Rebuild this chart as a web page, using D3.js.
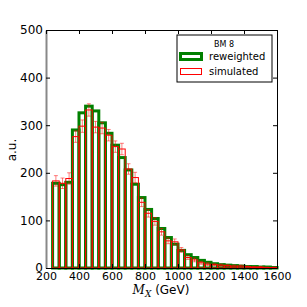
<!DOCTYPE html>
<html>
<head>
<meta charset="utf-8">
<script src="https://cdn.jsdelivr.net/npm/d3@7"></script>
<style>
    body { margin: 0; background: #fff; }
    .chart { width: 307px; height: 307px; }
    text { font-family: 'DejaVu Sans', sans-serif; fill: #000; }
</style>
</head>
<body>
<div class="chart"></div>
<script>
/* adatok */
const binLow = [240, 280, 320, 360, 400, 440, 480, 520, 560, 600, 640, 680, 720, 760, 800, 840, 880,
    920, 960, 1000, 1040, 1080, 1120, 1160, 1200, 1240, 1280, 1320, 1360, 1400, 1440, 1480, 1520, 1560];
const binWidth = 40;
const reweighted = [178, 175, 180, 290, 326, 340, 330, 305, 283, 258, 232, 206, 176, 148, 123, 104, 83,
    64, 50, 37, 28, 22, 16, 12, 9, 7, 6, 5, 4, 3, 3, 2, 2, 1];
const simulated = [183, 178, 188, 276, 298, 332, 296, 294, 279, 255, 250, 208, 190, 138, 115, 98, 76,
    57, 55, 38, 22, 17, 11, 8, 7, 6, 5, 4, 4, 3, 2, 2, 1, 1];
const simErr = [11, 11, 12, 12, 13, 13, 12, 12, 12, 12, 12, 11, 11, 9, 8, 8, 7,
    6, 6, 5, 4, 4, 3, 3, 2, 2, 2, 2, 2, 1, 1, 1, 1, 1];
const xTicks = [200, 400, 600, 800, 1000, 1200, 1400, 1600];
const yTicks = [0, 100, 200, 300, 400, 500];
const legendTitle = 'BM 8';
const seriesNames = ['reweighted', 'simulated'];

(function () {
    'use strict';

    const margin = { top: 30, left: 46, right: 30, bottom: 39 };
    const width = 307 - margin.left - margin.right;
    const height = 307 - margin.top - margin.bottom;

    const svg = d3.select('.chart').append('svg')
        .attr('width', 307)
        .attr('height', 307);

    const plot = svg.append('g')
        .attr('transform', 'translate(' + margin.left + ', ' + margin.top + ')');

    const x = d3.scaleLinear().domain([200, 1600]).range([0, width]);
    const y = d3.scaleLinear().domain([0, 500]).range([height, 0]);

    /* reweighted oszlopok */
    plot.selectAll('.rw').data(reweighted).enter().append('rect')
        .attr('class', 'rw')
        .attr('x', function (d, i) { return x(binLow[i]); })
        .attr('y', function (d) { return y(d); })
        .attr('width', function (d, i) { return x(binLow[i] + binWidth) - x(binLow[i]); })
        .attr('height', function (d) { return y(0) - y(d); })
        .attr('fill', 'none')
        .attr('stroke', '#008000')
        .attr('stroke-width', 3);

    /* simulated oszlopok */
    plot.selectAll('.sim').data(simulated).enter().append('rect')
        .attr('class', 'sim')
        .attr('x', function (d, i) { return x(binLow[i]); })
        .attr('y', function (d) { return y(d); })
        .attr('width', function (d, i) { return x(binLow[i] + binWidth) - x(binLow[i]); })
        .attr('height', function (d) { return y(0) - y(d); })
        .attr('fill', 'none')
        .attr('stroke', '#ff0000')
        .attr('stroke-width', 1);

    /* hibasávok */
    const err = plot.selectAll('.err').data(simulated).enter().append('g')
        .attr('class', 'err')
        .attr('stroke', '#ff0000')
        .attr('stroke-opacity', 0.5)
        .attr('stroke-width', 1);
    const cx = function (i) { return x(binLow[i] + binWidth / 2); };
    err.append('line')
        .attr('x1', function (d, i) { return cx(i); })
        .attr('x2', function (d, i) { return cx(i); })
        .attr('y1', function (d, i) { return y(d - simErr[i]); })
        .attr('y2', function (d, i) { return y(d + simErr[i]); });
    err.append('line')
        .attr('x1', function (d, i) { return cx(i) - 2; })
        .attr('x2', function (d, i) { return cx(i) + 2; })
        .attr('y1', function (d, i) { return y(d + simErr[i]); })
        .attr('y2', function (d, i) { return y(d + simErr[i]); });
    err.append('line')
        .attr('x1', function (d, i) { return cx(i) - 2; })
        .attr('x2', function (d, i) { return cx(i) + 2; })
        .attr('y1', function (d, i) { return y(d - simErr[i]); })
        .attr('y2', function (d, i) { return y(d - simErr[i]); });

    /* tengelyek, befelé mutató jelölőkkel */
    const xAxis = plot.append('g')
        .attr('transform', 'translate(0, ' + height + ')')
        .call(d3.axisBottom(x).tickValues(xTicks).tickFormat(d3.format('d'))
            .tickSizeInner(-4).tickSizeOuter(0).tickPadding(4));
    xAxis.selectAll('text').style('font-size', '11px');

    const yAxis = plot.append('g')
        .call(d3.axisLeft(y).tickValues(yTicks).tickSizeInner(-4).tickSizeOuter(0).tickPadding(3));
    yAxis.selectAll('text').style('font-size', '12px');

    plot.append('g')
        .call(d3.axisTop(x).tickValues(xTicks).tickSizeInner(-4).tickSizeOuter(0).tickFormat(''));
    plot.append('g')
        .attr('transform', 'translate(' + width + ', 0)')
        .call(d3.axisRight(y).tickValues(yTicks).tickSizeInner(-4).tickSizeOuter(0).tickFormat(''));

    plot.selectAll('.domain').attr('stroke', '#000');
    yAxis.select('.domain').attr('stroke', '#888').attr('stroke-width', 2);

    /* tengelyfeliratok */
    svg.append('text').text('a.u.')
        .attr('transform', 'translate(16, 150) rotate(-90)')
        .attr('text-anchor', 'middle')
        .style('font-size', '12px');

    const xLabel = svg.append('text')
        .attr('x', 161).attr('y', 294)
        .attr('text-anchor', 'middle')
        .style('font-size', '12px');
    xLabel.append('tspan').text('M').style('font-family', 'DejaVu Serif').style('font-style', 'italic');
    xLabel.append('tspan').text('X').attr('dy', 2.5).style('font-size', '9px')
        .style('font-family', 'DejaVu Serif').style('font-style', 'italic');
    xLabel.append('tspan').text(' (GeV)').attr('dy', -2.5);

    /* jelmagyarázat */
    const legend = svg.append('g').attr('class', 'legend');
    legend.append('rect')
        .attr('x', 177).attr('y', 35).attr('width', 95).attr('height', 47)
        .attr('fill', '#fff').attr('stroke', '#000').attr('stroke-width', 1);
    legend.append('text').text(legendTitle)
        .attr('x', 224).attr('y', 47)
        .attr('text-anchor', 'middle')
        .style('font-size', '8px');
    legend.append('rect')
        .attr('x', 180.5).attr('y', 53.5).attr('width', 21).attr('height', 6)
        .attr('fill', 'none').attr('stroke', '#008000').attr('stroke-width', 3);
    legend.append('rect')
        .attr('x', 180.5).attr('y', 68.5).attr('width', 21).attr('height', 6)
        .attr('fill', 'none').attr('stroke', '#ff0000').attr('stroke-width', 1);
    legend.selectAll('.leg-label').data(seriesNames).enter().append('text')
        .attr('class', 'leg-label')
        .text(function (d) { return d; })
        .attr('x', 209)
        .attr('y', function (d, i) { return 60 + i * 15; })
        .style('font-size', '10px');
}());
</script>
</body>
</html>
